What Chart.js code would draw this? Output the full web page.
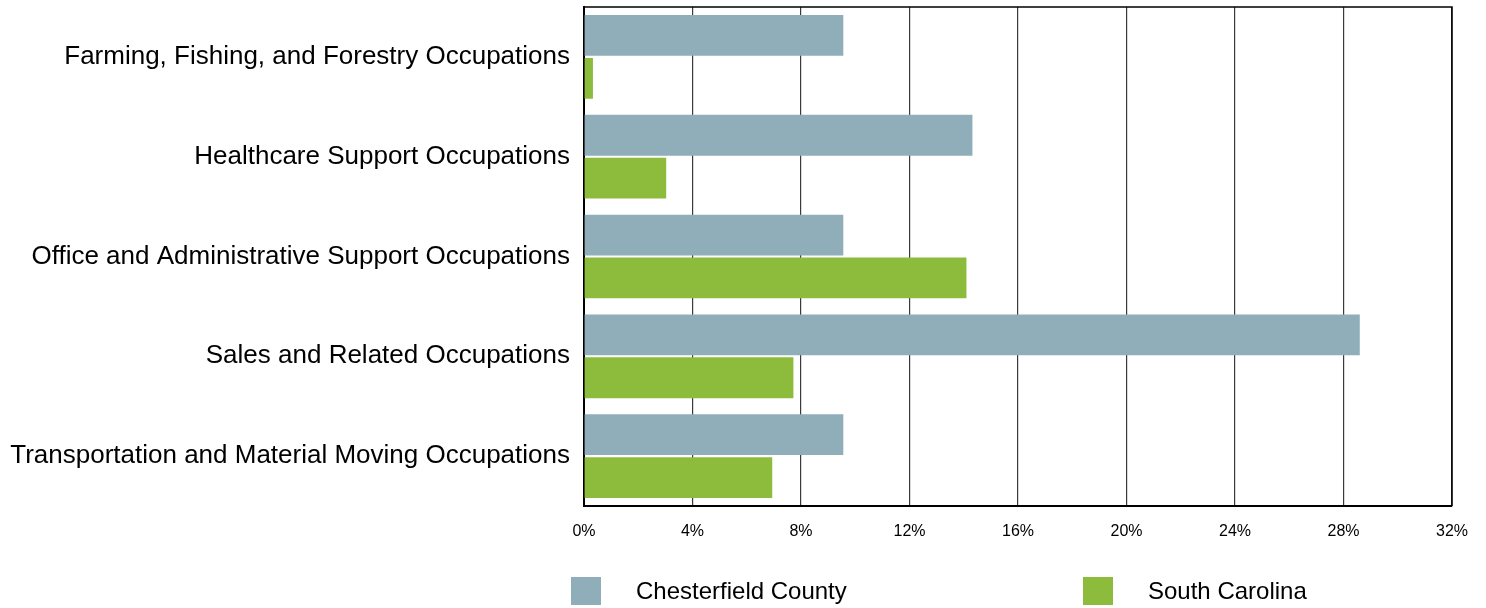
<!DOCTYPE html>
<html>
<head>
<meta charset="utf-8">
<script src="https://cdn.jsdelivr.net/npm/chart.js@4"></script>
<style>
  html, body { margin: 0; padding: 0; background: #fff; }
  #wrap { width: 1486px; height: 608px; position: relative; }
</style>
</head>
<body>
<div id="wrap"><canvas id="chart"></canvas></div>
<script>
// Occupation categories and shares (%)
const categories = [
  "Farming, Fishing, and Forestry Occupations",
  "Healthcare Support Occupations",
  "Office and Administrative Support Occupations",
  "Sales and Related Occupations",
  "Transportation and Material Moving Occupations",
];
const chesterfield = [9.56, 14.32, 9.56, 28.6, 9.56];
const southCarolina = [0.33, 3.03, 14.1, 7.72, 6.94];
const seriesNames = ["Chesterfield County", "South Carolina"];
const seriesColors = ["#8FAEB9", "#8DBC3C"];
const xTicks = [0, 4, 8, 12, 16, 20, 24, 28, 32];

const FONT = "'Liberation Sans', Arial, sans-serif";

// Outline of the plot area (top and right edges)
const frameLines = {
  id: "frameLines",
  afterDatasetsDraw(chart) {
    const { ctx, chartArea: a } = chart;
    ctx.save();
    ctx.strokeStyle = "#000";
    ctx.lineWidth = 1.5;
    ctx.beginPath();
    ctx.moveTo(a.left, a.top);
    ctx.lineTo(a.right, a.top);
    ctx.lineTo(a.right, a.bottom);
    ctx.stroke();
    ctx.restore();
  },
};

// Legend drawn in the bottom band
const bottomLegend = {
  id: "bottomLegend",
  afterDraw(chart) {
    const ctx = chart.ctx;
    const positions = [571, 1083];
    ctx.save();
    ctx.font = "24px " + FONT;
    ctx.textBaseline = "middle";
    chart.data.datasets.forEach((ds, i) => {
      const x = positions[i];
      ctx.fillStyle = ds.backgroundColor;
      ctx.fillRect(x, 577, 30, 28);
      ctx.fillStyle = "#000";
      ctx.fillText(ds.label, x + 65, 592);
    });
    ctx.restore();
  },
};

new Chart(document.getElementById("chart"), {
  type: "bar",
  data: {
    labels: categories,
    datasets: [
      { label: seriesNames[0], data: chesterfield, backgroundColor: seriesColors[0] },
      { label: seriesNames[1], data: southCarolina, backgroundColor: seriesColors[1] },
    ],
  },
  options: {
    indexAxis: "y",
    responsive: true,
    maintainAspectRatio: false,
    animation: false,
    categoryPercentage: 0.86,
    barPercentage: 0.95,
    layout: { padding: { top: 7, right: 34, left: 0, bottom: 0 } },
    plugins: {
      legend: { display: false },
      tooltip: { enabled: false },
    },
    scales: {
      x: {
        min: 0,
        max: 32,
        afterBuildTicks: (scale) => {
          scale.ticks = xTicks.map((v) => ({ value: v }));
        },
        afterFit: (scale) => {
          scale.height = 102;
        },
        ticks: {
          callback: (v) => v + "%",
          color: "#000",
          font: { family: FONT, size: 16 },
          padding: 16,
          maxRotation: 0,
        },
        grid: { color: "#3a3a3a", lineWidth: 1.2, drawTicks: false },
        border: { color: "#000", width: 2 },
      },
      y: {
        afterFit: (scale) => {
          scale.width = 584;
          scale.paddingTop = 0;
          scale.paddingBottom = 0;
        },
        ticks: {
          color: "#000",
          font: { family: FONT, size: 26 },
          padding: 14,
        },
        grid: { display: false, drawTicks: false },
        border: { color: "#000", width: 2 },
      },
    },
  },
  plugins: [frameLines, bottomLegend],
});
</script>
</body>
</html>
